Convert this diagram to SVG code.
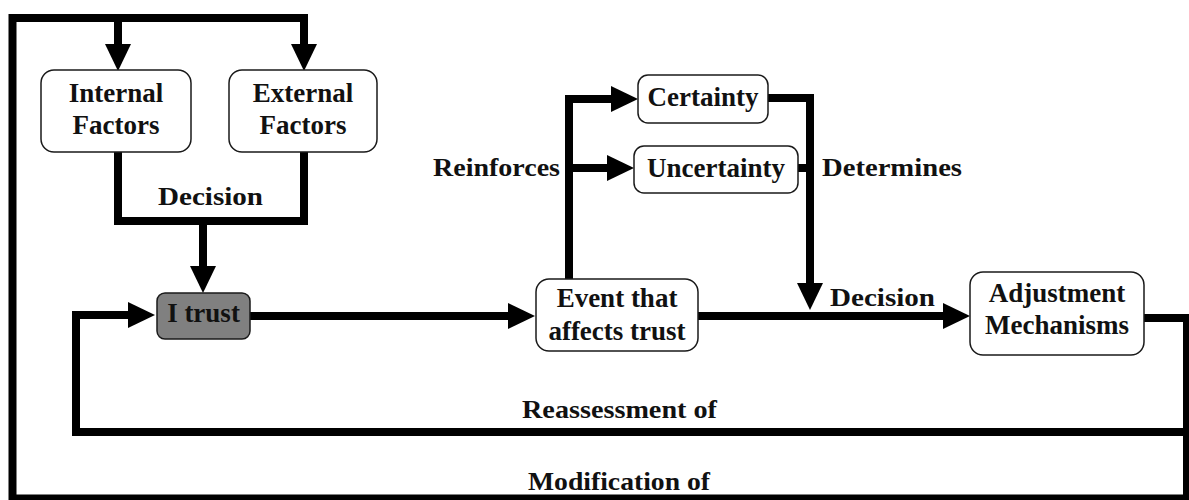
<svg xmlns="http://www.w3.org/2000/svg" width="1189" height="500" viewBox="0 0 1189 500">
  <defs>
    <style>
      .box { fill: #ffffff; stroke: #1a1a1a; stroke-width: 1.5; }
      .dark { fill: #808080; }
      .node-text { font-family: "Liberation Serif", "Times New Roman", serif; font-weight: bold; font-size: 27px; fill: #111111; text-anchor: middle; }
      .label { font-family: "Liberation Serif", "Times New Roman", serif; font-weight: bold; font-size: 26px; fill: #111111; }
      .wire { fill: none; stroke: #000000; stroke-width: 8; stroke-linejoin: miter; stroke-linecap: butt; }
      .arrow { marker-end: url(#head); }
    </style>
    <marker id="head" markerUnits="userSpaceOnUse" markerWidth="28" markerHeight="28" refX="0" refY="13" orient="auto">
      <path d="M0,0 L27,13 L0,26 Z" fill="#000000"/>
    </marker>
  </defs>

  <rect width="1189" height="500" fill="#ffffff"/>

  <!-- connectors -->
  <g id="connectors">
    <!-- outer feedback loop: Adjustment -> around the border -> factors -->
    <path class="wire arrow" d="M1144,318 H1187 V498.5 H12.5 V18 H304 V44"/>
    <path class="wire arrow" d="M118,18 V44"/>
    <!-- inner reassessment loop back to I trust -->
    <path class="wire arrow" d="M1187,432 H76 V315 H128"/>
    <!-- factors merge into a decision -->
    <path class="wire" d="M118,152 V221 H304 V152"/>
    <path class="wire arrow" d="M203,221 V266"/>
    <!-- I trust -> event -->
    <path class="wire arrow" d="M250,316 H508"/>
    <!-- event -> adjustment -->
    <path class="wire arrow" d="M698,316 H943"/>
    <!-- event reinforces certainty / uncertainty -->
    <path class="wire arrow" d="M569,279 V99 H611"/>
    <path class="wire arrow" d="M569,168 H607"/>
    <!-- certainty / uncertainty determine the decision -->
    <path class="wire arrow" d="M768,98 H810 V283"/>
    <path class="wire" d="M798,168 H810"/>
  </g>

  <!-- edge labels -->
  <g id="labels">
    <text class="label" x="158" y="205" textLength="105" lengthAdjust="spacingAndGlyphs">Decision</text>
    <text class="label" x="433" y="176" textLength="127" lengthAdjust="spacingAndGlyphs">Reinforces</text>
    <text class="label" x="822" y="176" textLength="140" lengthAdjust="spacingAndGlyphs">Determines</text>
    <text class="label" x="830" y="306" textLength="105" lengthAdjust="spacingAndGlyphs">Decision</text>
    <text class="label" x="522" y="418" textLength="195" lengthAdjust="spacingAndGlyphs">Reassessment of</text>
    <text class="label" x="528" y="490" textLength="182" lengthAdjust="spacingAndGlyphs">Modification of</text>
  </g>

  <g id="internal-factors">
    <rect class="box" x="41" y="70" width="150" height="82" rx="13"/>
    <text class="node-text" x="116" y="102">Internal</text>
    <text class="node-text" x="116" y="134">Factors</text>
  </g>

  <g id="external-factors">
    <rect class="box" x="229" y="70" width="148" height="82" rx="13"/>
    <text class="node-text" x="303" y="102">External</text>
    <text class="node-text" x="303" y="134">Factors</text>
  </g>

  <g id="i-trust">
    <rect class="box dark" x="157" y="293" width="93" height="46" rx="8"/>
    <text class="node-text" x="203.5" y="322">I trust</text>
  </g>

  <g id="event">
    <rect class="box" x="536" y="279" width="162" height="72" rx="13"/>
    <text class="node-text" x="617" y="307">Event that</text>
    <text class="node-text" x="617" y="340">affects trust</text>
  </g>

  <g id="certainty">
    <rect class="box" x="638" y="75" width="130" height="48" rx="10"/>
    <text class="node-text" x="703" y="106">Certainty</text>
  </g>

  <g id="uncertainty">
    <rect class="box" x="634" y="146" width="164" height="47" rx="10"/>
    <text class="node-text" x="716" y="177">Uncertainty</text>
  </g>

  <g id="adjustment">
    <rect class="box" x="970" y="272" width="174" height="83" rx="13"/>
    <text class="node-text" x="1057" y="302">Adjustment</text>
    <text class="node-text" x="1057" y="334">Mechanisms</text>
  </g>
</svg>
